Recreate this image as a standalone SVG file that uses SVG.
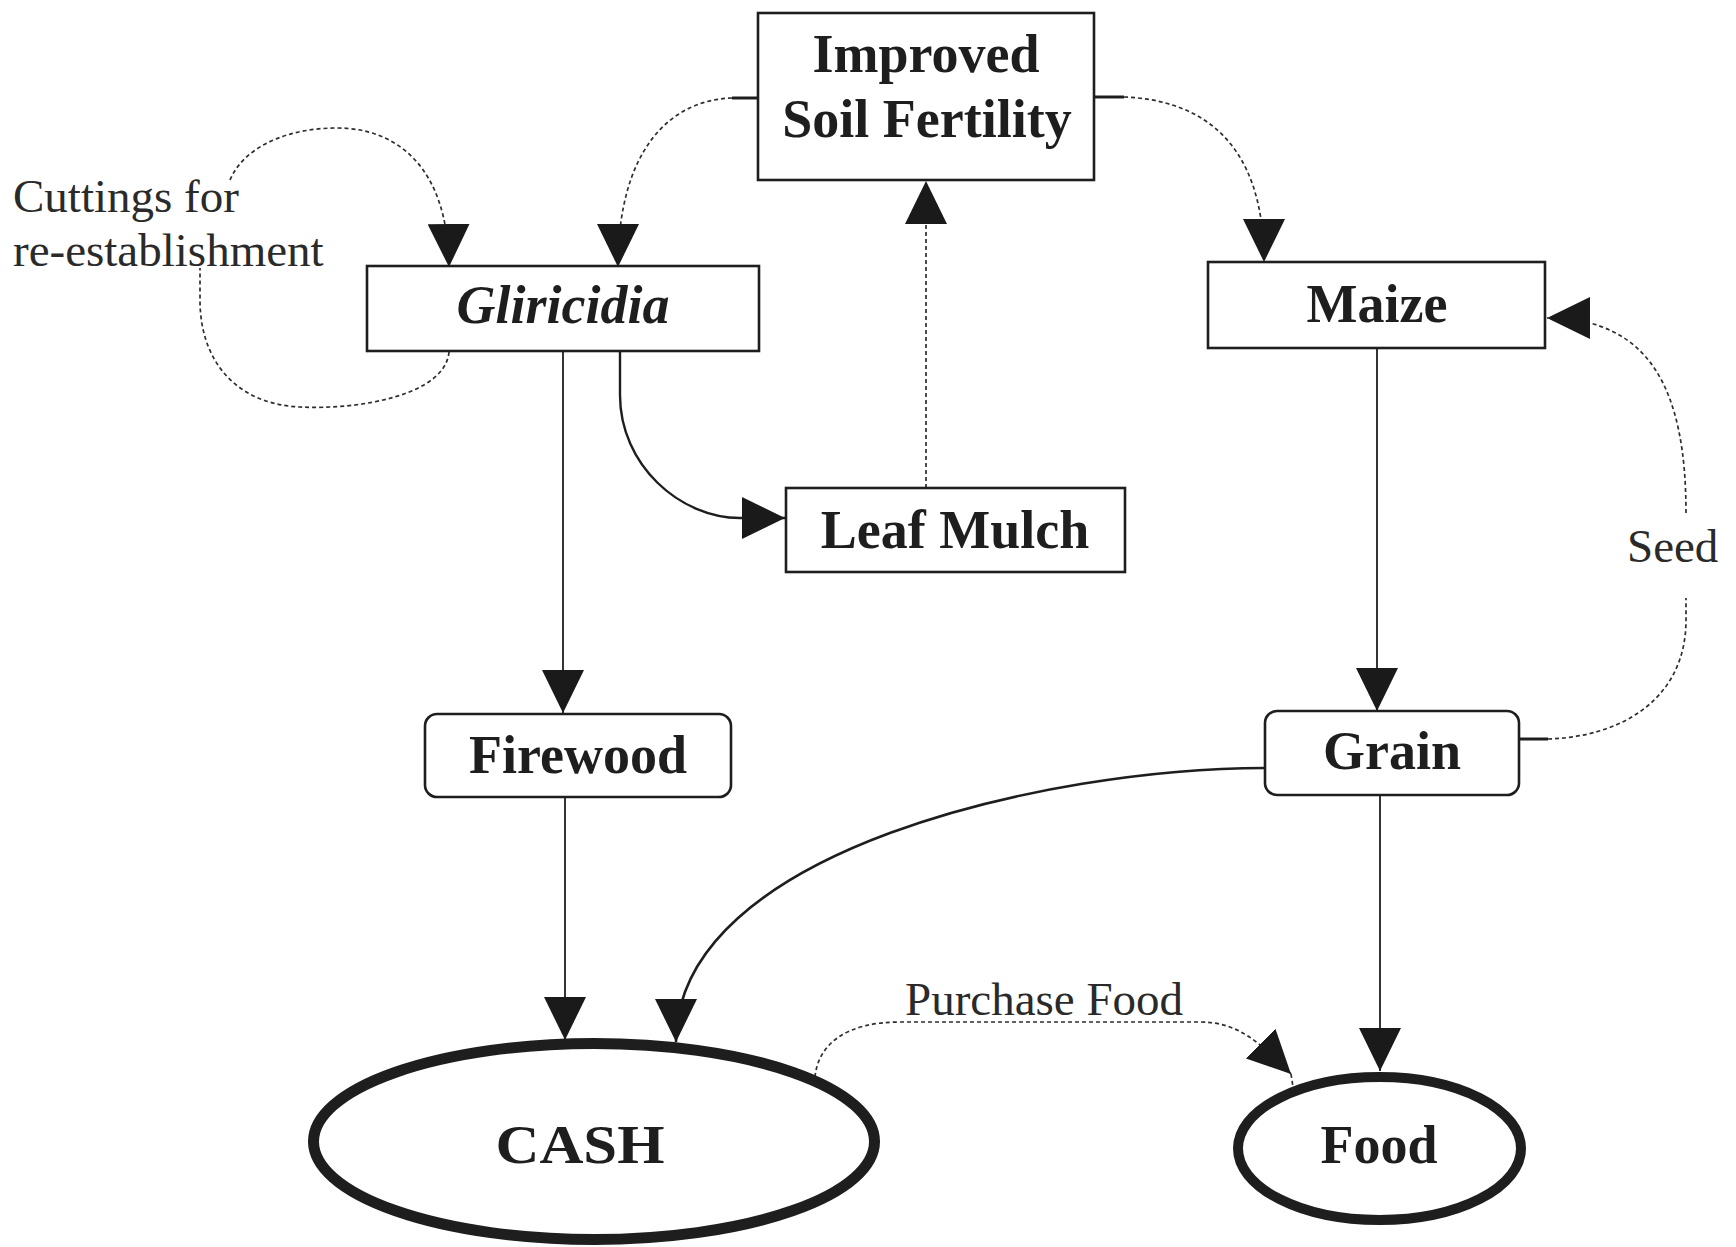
<svg xmlns="http://www.w3.org/2000/svg" width="1736" height="1247" viewBox="0 0 1736 1247">
<style>
.box{fill:#fff;stroke:#1e1e1e;stroke-width:2.6}
.oval{fill:#fff;stroke:#1e1e1e}
.nt{font-family:"Liberation Serif","Times New Roman",serif;font-weight:bold;font-size:54px;fill:#1e1e1e;text-anchor:middle}
.lb{font-family:"Liberation Serif","Times New Roman",serif;font-size:47px;fill:#2a2a2a}
.solid{fill:none;stroke:#1e1e1e;stroke-width:1.8}
.dash{fill:none;stroke:#2e2e2e;stroke-width:1.7;stroke-dasharray:4 3}
.stub{fill:none;stroke:#1e1e1e;stroke-width:3}
</style>
<defs>
<marker id="ah" markerUnits="userSpaceOnUse" markerWidth="44" markerHeight="42" refX="43" refY="21" orient="auto" viewBox="0 0 44 42">
<path d="M0,0 L43,21 L0,42 z" fill="#1a1a1a"/>
</marker>
</defs>
<rect width="1736" height="1247" fill="#fff"/>

<g id="connectors">
<path class="dash" d="M449 352 C445 395 360 410 300 407 C235 404 200 360 200 300 L200 268"/>
<path class="dash" d="M230 180 C245 145 290 128 337 128 C395 128 448 165 449 267" marker-end="url(#ah)"/>
<path class="stub" d="M758 98 L732 98"/>
<path class="dash" d="M732 98 C670 100 618 150 618 267" marker-end="url(#ah)"/>
<path class="stub" d="M1094 97 L1124 97"/>
<path class="dash" d="M1124 97 C1200 100 1264 140 1264 262" marker-end="url(#ah)"/>
<path class="dash" d="M926 488 L926 181" marker-end="url(#ah)"/>
<path class="solid" d="M563 351 L563 713" marker-end="url(#ah)"/>
<path class="solid" style="stroke-width:2.4" d="M620 351 L620 395 C620 465 680 518 740 518 L785 518" marker-end="url(#ah)"/>
<path class="solid" d="M1377 348 L1377 711" marker-end="url(#ah)"/>
<path class="stub" d="M1520 739 L1548 739"/>
<path class="dash" d="M1548 739 C1620 737 1686 700 1686 620 L1686 598"/>
<path class="dash" d="M1686 513 C1686 390 1650 318 1547 318" marker-end="url(#ah)"/>
<path class="solid" d="M565 798 L565 1040" marker-end="url(#ah)"/>
<path class="solid" style="stroke-width:2.6" d="M1265 768 C1050 768 676 850 676 1042" marker-end="url(#ah)"/>
<path class="solid" d="M1380 796 L1380 1071" marker-end="url(#ah)"/>
<path class="dash" d="M815 1077 C818 1045 845 1022 900 1022 L1200 1022 C1240 1022 1262 1045 1291 1074" marker-end="url(#ah)"/>
<path class="dash" d="M1291 1074 L1296 1106"/>
</g>

<g id="node-soil">
<rect class="box" x="758" y="13" width="336" height="167"/>
<text class="nt" x="926" y="72" font-size="55">Improved</text>
<text class="nt" x="927" y="137" font-size="56">Soil Fertility</text>
</g>
<g id="node-gliricidia">
<rect class="box" x="367" y="266" width="392" height="85"/>
<text class="nt" x="563" y="323" font-style="italic" font-size="55">Gliricidia</text>
</g>
<g id="node-maize">
<rect class="box" x="1208" y="262" width="337" height="86"/>
<text class="nt" x="1377" y="322">Maize</text>
</g>
<g id="node-leafmulch">
<rect class="box" x="786" y="488" width="339" height="84"/>
<text class="nt" x="955" y="548">Leaf Mulch</text>
</g>
<g id="node-firewood">
<rect class="box" x="425" y="714" width="306" height="83" rx="12"/>
<text class="nt" x="578" y="773">Firewood</text>
</g>
<g id="node-grain">
<rect class="box" x="1265" y="711" width="254" height="84" rx="12"/>
<text class="nt" x="1392" y="769">Grain</text>
</g>
<g id="node-cash">
<ellipse class="oval" cx="594" cy="1141.5" rx="280.5" ry="98" stroke-width="11"/>
<text class="nt" x="580" y="1163" font-size="64" textLength="169" lengthAdjust="spacingAndGlyphs">CASH</text>
</g>
<g id="node-food">
<ellipse class="oval" cx="1379.5" cy="1148.5" rx="141.5" ry="71.5" stroke-width="10"/>
<text class="nt" x="1379" y="1163">Food</text>
</g>

<g id="labels">
<text class="lb" x="13" y="212">Cuttings for</text>
<text class="lb" x="13" y="266">re-establishment</text>
<text class="lb" x="1627" y="562">Seed</text>
<text class="lb" x="905" y="1015">Purchase Food</text>
</g>
</svg>
